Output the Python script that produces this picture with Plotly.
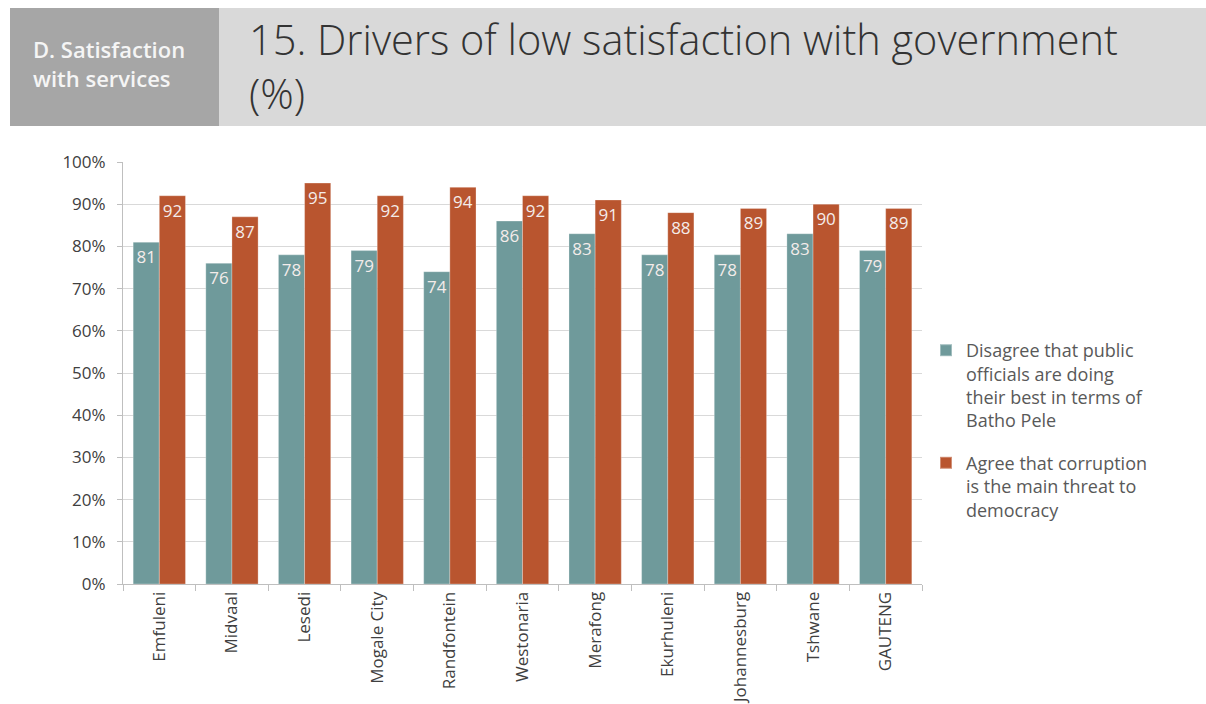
import plotly.graph_objects as go

# Municipalities and survey results (%)
municipalities = ["Emfuleni", "Midvaal", "Lesedi", "Mogale City", "Randfontein",
                  "Westonaria", "Merafong", "Ekurhuleni", "Johannesburg", "Tshwane", "GAUTENG"]
disagree_batho_pele = [81, 76, 78, 79, 74, 86, 83, 78, 78, 83, 79]
corruption_threat = [92, 87, 95, 92, 94, 92, 91, 88, 89, 90, 89]

series_names = [
    "Disagree that public<br>officials are doing<br>their best in terms of<br>Batho Pele",
    "Agree that corruption<br>is the main threat to<br>democracy",
]
y_ticks = [0, 10, 20, 30, 40, 50, 60, 70, 80, 90, 100]
y_tick_text = [f"{v}%" for v in y_ticks]

W, H = 1206, 704
ML, MR, MT, MB = 123, 284, 162, 120
PW, PH = W - ML - MR, H - MT - MB


def px_x(x):
    return (x - ML) / PW


def px_y(y):
    return (H - MB - y) / PH


FONT = "Open Sans"
TEAL = "#6f9a9b"
RUST = "#b9552f"

fig = go.Figure()
for i, (name, vals, col) in enumerate([(series_names[0], disagree_batho_pele, TEAL),
                                       (series_names[1], corruption_threat, RUST)]):
    fig.add_trace(go.Bar(
        x=municipalities, y=vals, name=name, legendgroup=f"g{i}",
        marker=dict(color=col, line=dict(color="rgba(255,255,255,0.35)", width=0.8)),
        text=[str(v) for v in vals], textposition="inside", insidetextanchor="end",
        textfont=dict(family=FONT, size=17, color="#f4ecea"),
        textangle=0, cliponaxis=False,
    ))

fig.update_layout(
    width=W, height=H,
    margin=dict(l=ML, r=MR, t=MT, b=MB, autoexpand=False),
    paper_bgcolor="white", plot_bgcolor="white",
    barmode="group", bargap=0.28, bargroupgap=0,
    uniformtext=dict(minsize=8, mode="show"),
    font=dict(family=FONT, color="#595959"),
    legend=dict(x=px_x(926), y=px_y(332), xanchor="left", yanchor="top",
                font=dict(family=FONT, size=18, color="#595959"),
                itemsizing="constant", tracegroupgap=16, traceorder="grouped",
                itemwidth=30, valign="top"),
    showlegend=True,
)

fig.update_xaxes(
    automargin=False,
    showline=True, linecolor="#bfbfbf", linewidth=1,
    ticks="outside", tickson="boundaries", ticklen=6, tickcolor="#bfbfbf",
    tickangle=-90, tickfont=dict(family=FONT, size=17, color="#404040"),
    showgrid=False,
)
fig.update_yaxes(
    automargin=False,
    range=[0, 100], tickvals=y_ticks, ticktext=y_tick_text,
    showline=True, linecolor="#bfbfbf", linewidth=1,
    ticks="outside", ticklen=5, tickcolor="#bfbfbf", ticklabelstandoff=8,
    showgrid=True, gridcolor="#d9d9d9", gridwidth=1,
    tickfont=dict(family=FONT, size=17, color="#404040"),
    zeroline=False,
)

# Header band
fig.add_shape(type="rect", xref="paper", yref="paper",
              x0=px_x(219), x1=px_x(1206), y0=px_y(126), y1=px_y(8),
              fillcolor="#d9d9d9", line=dict(width=0), layer="below")
fig.add_shape(type="rect", xref="paper", yref="paper",
              x0=px_x(10), x1=px_x(219), y0=px_y(126), y1=px_y(8),
              fillcolor="#a6a6a6", line=dict(width=0), layer="below")

fig.add_annotation(xref="paper", yref="paper", x=px_x(31), y=px_y(63),
                   xanchor="left", yanchor="middle", align="left", showarrow=False,
                   text="D. Satisfaction<br>with services",
                   font=dict(family=FONT, size=22, color="#f5f5f5", weight=600))

fig.add_annotation(xref="paper", yref="paper", x=px_x(247), y=px_y(66),
                   xanchor="left", yanchor="middle", align="left", showarrow=False,
                   text="15. Drivers of low satisfaction with government<br>(%)",
                   font=dict(family=FONT, size=41.5, color="#333333", weight=300))

fig.write_html("out.html")
